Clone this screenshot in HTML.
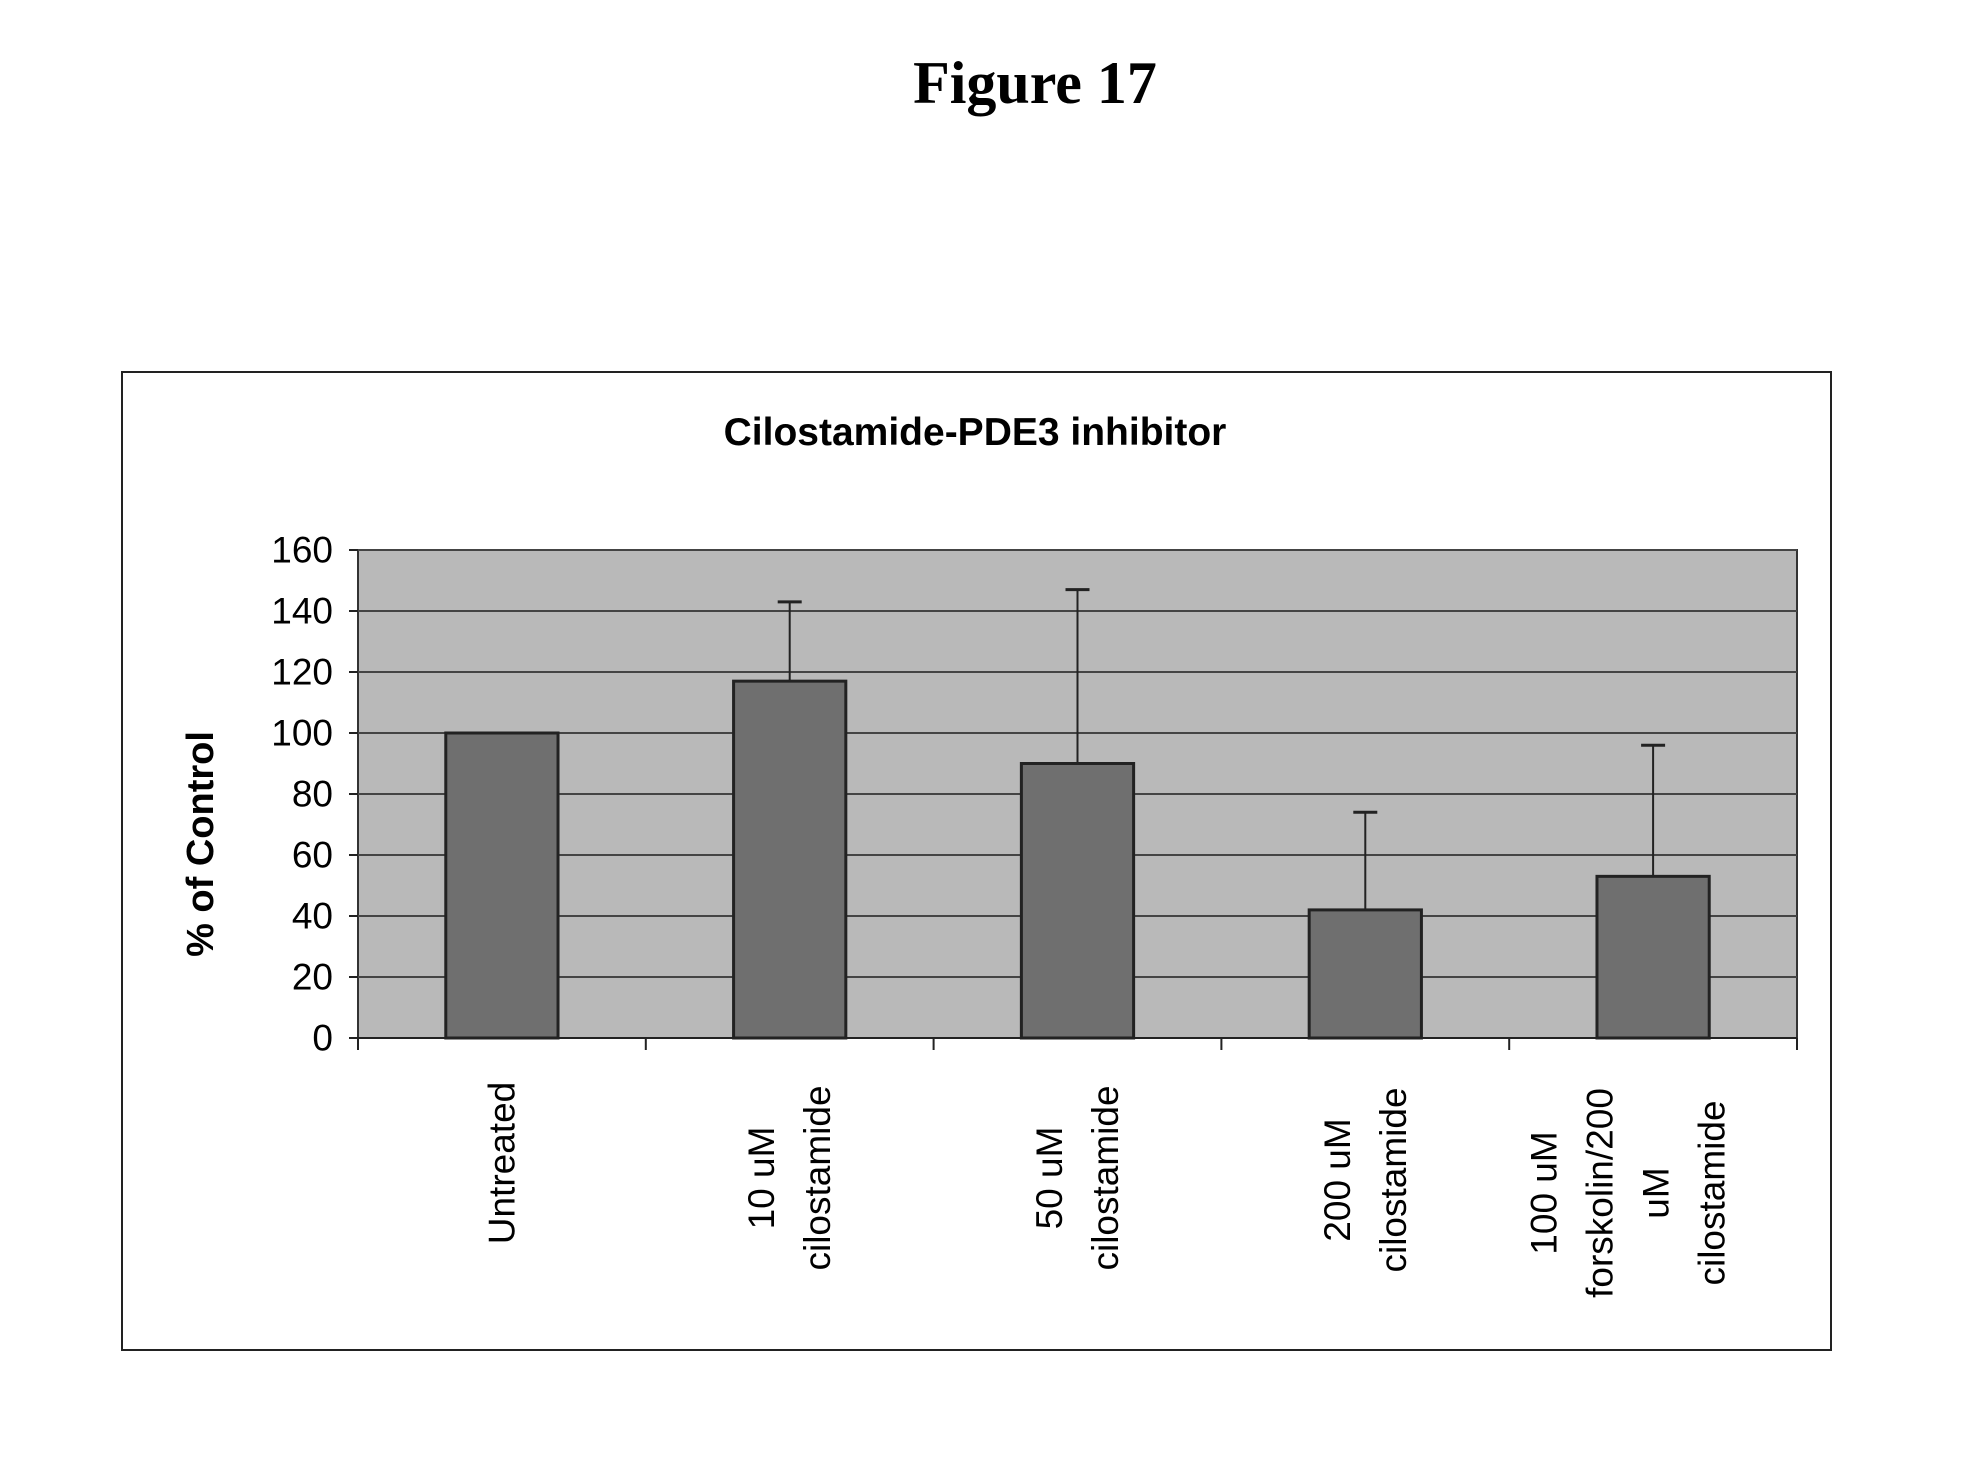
<!DOCTYPE html>
<html><head><meta charset="utf-8"><style>
html,body{margin:0;padding:0;background:#fff;}
svg{display:block;}
text{font-family:"Liberation Sans",sans-serif;}
</style></head><body>
<svg id="chart" width="1970" height="1476" viewBox="0 0 1970 1476" xmlns="http://www.w3.org/2000/svg">
<text x="1035" y="103" text-anchor="middle" style="font-family:'Liberation Serif',serif;font-weight:bold;font-size:60px">Figure 17</text>
<rect x="122" y="372" width="1709" height="978" fill="#fff" stroke="#222" stroke-width="2"/>
<text x="975" y="445" text-anchor="middle" style="font-weight:bold;font-size:39px">Cilostamide-PDE3 inhibitor</text>
<text transform="translate(201,844) rotate(-90)" text-anchor="middle" dominant-baseline="central" style="font-weight:bold;font-size:38px">% of Control</text>
<g id="plot"></g>
</svg>
<script>
const categories = [["Untreated"],["10 uM","cilostamide"],["50 uM","cilostamide"],["200 uM","cilostamide"],["100 uM","forskolin/200","uM","cilostamide"]];
const values = [100, 117, 90, 42, 53];
const errorTops = [100, 143, 147, 74, 96];
const yTicks = [0,20,40,60,80,100,120,140,160];
const labelCenters = [1163, 1178, 1178, 1180, 1193];

const NS = "http://www.w3.org/2000/svg";
const plot = document.getElementById('plot');
const X0 = 358, X1 = 1797, Y0 = 1038, Y1 = 550, YMAX = 160;
const catW = (X1 - X0) / categories.length;
const yScale = v => Y0 - v / YMAX * (Y0 - Y1);
const xCenter = i => X0 + catW * (i + 0.5);
function mk(tag, attrs) { const e = document.createElementNS(NS, tag); for (const k in attrs) e.setAttribute(k, attrs[k]); plot.appendChild(e); return e; }

let bg = mk('rect', {x:X0, y:Y1, width:X1-X0, height:Y0-Y1, fill:'#b9b9b9', stroke:'#333', 'stroke-width':2});



yTicks.forEach(t => {
  const y = yScale(t);
  if (t > 0) {
    let g = mk('line', {x1:X0, x2:X1, y1:y, y2:y, stroke:'#444', 'stroke-width':2});
    
    
  }
  let tk = mk('line', {x1:X0-9, x2:X0, y1:y, y2:y, stroke:'#222', 'stroke-width':2});
  
  
  let lb = mk('text', {x:X0-25, y:y, 'text-anchor':'end', 'dominant-baseline':'central', 'font-size':37});
  lb.textContent = t;
  
  
});

let ax = mk('line', {x1:X0, x2:X1, y1:Y0, y2:Y0, stroke:'#222', 'stroke-width':2});


for (let i = 0; i <= categories.length; i++) {
  let tk = mk('line', {x1:X0+catW*i, x2:X0+catW*i, y1:Y0, y2:Y0+12, stroke:'#222', 'stroke-width':2});
  
  
}

const barW = catW * 0.39;
values.forEach((v, i) => {
  const cx = xCenter(i);
  let b = mk('rect', {x:cx-barW/2, y:yScale(v), width:barW, height:Y0-yScale(v), fill:'#6f6f6f', stroke:'#222', 'stroke-width':3});
  
  
  if (errorTops[i] > v) {
    let e = mk('line', {x1:cx, x2:cx, y1:yScale(v), y2:yScale(errorTops[i]), stroke:'#222', 'stroke-width':2});
    
    
    let c = mk('line', {x1:cx-12, x2:cx+12, y1:yScale(errorTops[i]), y2:yScale(errorTops[i]), stroke:'#222', 'stroke-width':3});
    
    
  }
  const lines = categories[i];
  const lh = 56;
  lines.forEach((ln, k) => {
    const x = cx + (k - (lines.length - 1) / 2) * lh - (i === 4 ? 25 : 0);
    let t = mk('text', {transform:`translate(${x},${labelCenters[i]}) rotate(-90)`, 'text-anchor':'middle', 'dominant-baseline':'central', 'font-size':37});
    t.textContent = ln;
    
    
  });
});
</script>
</body></html>
